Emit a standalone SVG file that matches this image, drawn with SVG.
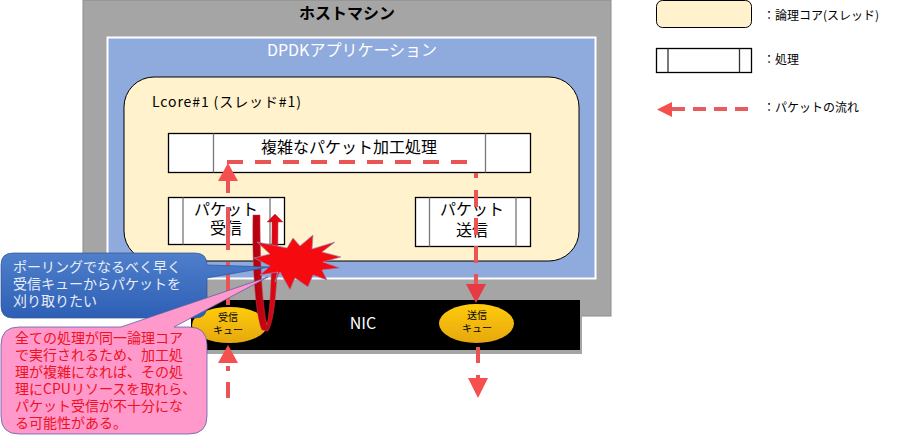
<svg xmlns="http://www.w3.org/2000/svg" width="901" height="440" viewBox="0 0 901 440">
<style>
text{font-family:"Noto Sans CJK JP","Liberation Sans",sans-serif;text-anchor:middle}
.l{text-anchor:start}
.proc{fill:#fff;stroke:#000;stroke-width:1.3}
.sep{stroke:#777;stroke-width:1.3}
.flow{fill:none;stroke:#ea5455;stroke-width:4}
.head{fill:#f64f50}
.q{fill:url(#gold)}
</style>
<defs>
<linearGradient id="gold" x1="0" y1="0" x2="0" y2="1"><stop offset="0" stop-color="#ffcb0c"/><stop offset="1" stop-color="#e6a80e"/></linearGradient>
<linearGradient id="blue" x1="0" y1="0" x2="0" y2="1"><stop offset="0" stop-color="#4f7fcb"/><stop offset="1" stop-color="#2d5fb5"/></linearGradient>
<linearGradient id="u" x1="0" y1="0" x2="1" y2="0"><stop offset="0" stop-color="#b00010"/><stop offset="1" stop-color="#ee0a14"/></linearGradient>
</defs>
<g id="host"><rect x="83" y="0" width="528" height="316" fill="#a5a5a5" stroke="#8c8c8c"/><text x="347" y="19" font-size="16" font-weight="700">ホストマシン</text></g>
<g id="app"><rect x="107.500" y="37.500" width="488" height="241" fill="#8faadc" stroke="#fff" stroke-width="2"/><text x="352" y="56" font-size="16" fill="#fff">DPDKアプリケーション</text></g>
<g id="lcore"><rect x="124" y="77" width="455" height="184" rx="30" fill="#fff2cc" stroke="#000"/><text class="l" x="152" y="107" font-size="14" letter-spacing=".9">Lcore#1 (スレッド#1)</text></g>
<g id="nic"><rect x="193" y="303" width="389" height="51" fill="#a5a5a5"/><rect x="191" y="300" width="389" height="50" fill="#000"/><text x="363" y="329" font-size="16" fill="#fff">NIC</text></g>
<g id="proc-main"><rect class="proc" x="168.500" y="133.500" width="362" height="39"/><path class="sep" d="M213.500 133.500V172.500M485.500 133.500V172.500"/><text x="349" y="153" font-size="16">複雑なパケット加工処理</text></g>
<g id="proc-rx"><rect class="proc" x="168.500" y="197.500" width="116" height="47"/><path class="sep" d="M183 197.500V244.500M270 197.500V244.500"/><text x="226" y="215" font-size="16">パケット<tspan x="226" dy="19">受信</tspan></text></g>
<g id="proc-tx"><rect class="proc" x="415.500" y="197.500" width="115" height="49"/><path class="sep" d="M429.500 197.500V246.500M516 197.500V246.500"/><text x="472" y="215" font-size="16">パケット<tspan x="472" dy="21">送信</tspan></text></g>
<g id="connectors">
<path class="flow" d="M228 398V382M228 371V366"/>
<path class="flow" d="M228 305V262M228 250V207M228 193V180" stroke-width="3.500"/>
<path class="flow" d="M227 162H467" stroke-dasharray="16 12"/>
<path class="flow" d="M476 173V178M476 190V207M476 218V235M476 246V263M476 274V291"/>
<path class="flow" d="M478 347V363M478 375V379"/>
<polygon class="head" points="218,363 238,363 228,345"/>
<polygon class="head" points="218,181 238,181 228,163"/>
<polygon class="head" points="466,284 486,284 476,303" style="fill:#e63a44"/>
<polygon class="head" points="468,378 488,378 478,398"/>
</g>
<g id="queue-rx"><ellipse cx="229.500" cy="325" rx="37.500" ry="18" class="q"/><text x="228" y="321" font-size="10">受信<tspan x="228" dy="13">キュー</tspan></text></g>
<g id="queue-tx"><ellipse cx="476.500" cy="323.500" rx="37.500" ry="19.500" class="q"/><text x="477" y="319" font-size="10">送信<tspan x="477" dy="13">キュー</tspan></text></g>
<g id="u-arrow"><path d="M253 215H260C260 260 262 305 267 325C271 310 272 260 272 222H267L275 214L283 222H278C278 270 276 318 268 331L262 330C255 315 252 260 253 215Z" fill="url(#u)" stroke="#c0404a" stroke-width=".5"/></g>
<g id="burst"><polygon points="257,242 287,248 293,238 300,246 313,235 312,249 335,242 322,252 341,257 323,262 340,268 322,270 327,280 313,275 308,287 295,278 290,290 280,272 275,282 278,272 260,275 270,266 254,258 270,254" fill="#f50a0f" stroke="#8f90c0" stroke-width=".7"/></g>
<g id="callout-blue"><path d="M13 253H195Q207 253 207 265L270 267L207 278V306Q207 318 195 318H13Q1 318 1 306V265Q1 253 13 253Z" fill="url(#blue)" stroke="#2f5597" stroke-width=".7"/><text class="l" x="13" y="272" font-size="14" fill="#e8eef8">ポーリングでなるべく早く<tspan x="13" dy="17">受信キューからパケットを</tspan><tspan x="13" dy="17">刈り取りたい</tspan></text></g>
<g id="callout-pink"><path d="M19 327H121L268 277L174 327H189Q207 327 207 345V416Q207 434 189 434H19Q1 434 1 416V345Q1 327 19 327Z" fill="#ff99cc" stroke="#5b5fa8" stroke-width=".8"/><text class="l" x="15" y="343" font-size="14" fill="#f01020">全ての処理が同一論理コア<tspan x="15" dy="17">で実行されるため、加工処</tspan><tspan x="15" dy="17">理が複雑になれば、その処</tspan><tspan x="15" dy="17">理にCPUリソースを取れら、</tspan><tspan x="15" dy="17">パケット受信が不十分にな</tspan><tspan x="15" dy="17">る可能性がある。</tspan></text></g>
<g id="legend-core"><rect x="656.500" y="0.500" width="95" height="27" rx="6" fill="#fff2cc" stroke="#000"/><text class="l" x="763" y="20" font-size="12">：論理コア(スレッド)</text></g>
<g id="legend-proc"><rect class="proc" x="656.500" y="48.500" width="95" height="24"/><path class="sep" d="M668 48.500V72.500M739.500 48.500V72.500" style="stroke:#333"/><text class="l" x="763" y="64" font-size="12">：処理</text></g>
<g id="legend-flow"><path d="M672 109H748" fill="none" stroke="#e85c5e" stroke-width="4" stroke-dasharray="13 8"/><polygon class="head" points="657,109.500 672,102 672,117"/><text class="l" x="763" y="112" font-size="12">：パケットの流れ</text></g>
</svg>
